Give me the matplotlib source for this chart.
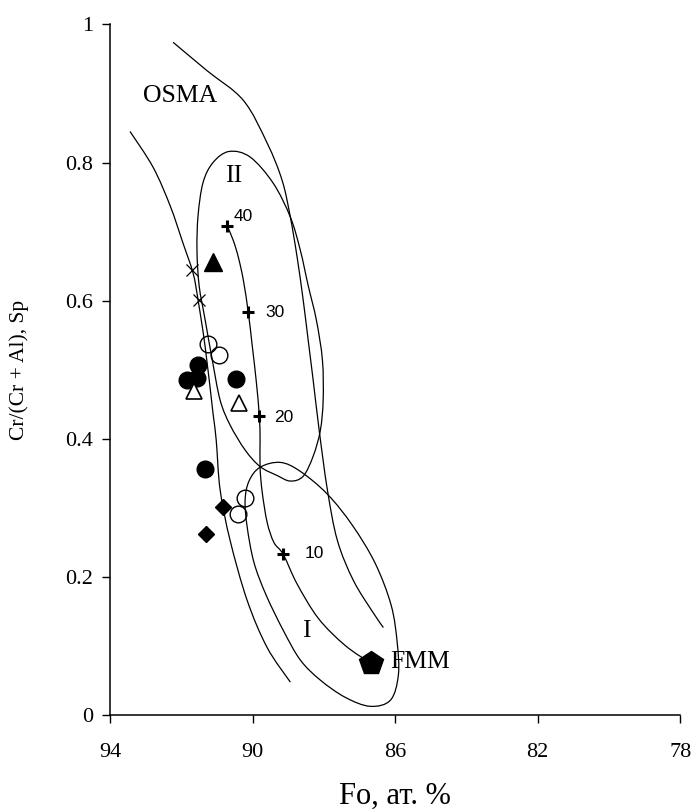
import matplotlib
matplotlib.use('Agg')
import matplotlib.pyplot as plt
from matplotlib.path import Path
from matplotlib.patches import PathPatch

plt.rcParams['font.family'] = ['Liberation Serif', 'DejaVu Serif']

# Fo (at. %) vs Cr/(Cr+Al) in spinel
osma_left_x = [93.44, 92.79, 92.31, 91.95, 91.67, 91.53, 91.33, 91.11, 91.02, 90.91, 90.63, 90.15, 89.59, 88.94]
osma_left_y = [0.845, 0.793, 0.737, 0.683, 0.640, 0.601, 0.533, 0.437, 0.398, 0.326, 0.253, 0.166, 0.098, 0.048]

osma_right_x = [92.23, 91.28, 90.26, 89.59, 89.17, 88.94, 88.75, 88.58, 88.44, 88.30, 88.13, 87.90, 87.62, 87.17, 86.61, 86.33]
osma_right_y = [0.974, 0.933, 0.890, 0.828, 0.774, 0.721, 0.663, 0.601, 0.543, 0.485, 0.412, 0.326, 0.253, 0.195, 0.148, 0.127]

# field II (closed)
field2_x = [90.66, 90.07, 89.42, 88.94, 88.66, 88.44, 88.21, 88.04, 88.02, 88.10, 88.30, 88.58, 88.94,
            89.31, 89.79, 90.21, 90.63, 90.91, 91.13, 91.33, 91.50, 91.56, 91.53, 91.39, 91.11]
field2_y = [0.816, 0.808, 0.770, 0.721, 0.673, 0.622, 0.572, 0.514, 0.456, 0.412, 0.375, 0.346, 0.339,
            0.347, 0.360, 0.384, 0.420, 0.456, 0.514, 0.572, 0.622, 0.673, 0.723, 0.771, 0.800]

# field I (closed)
field1_x = [89.79, 89.22, 88.66, 87.90, 87.20, 86.56, 86.11, 85.94, 85.91, 86.13, 86.70, 87.40, 88.10,
            88.66, 89.14, 89.62, 89.96, 90.15, 90.21, 90.10]
field1_y = [0.359, 0.366, 0.353, 0.320, 0.275, 0.220, 0.159, 0.104, 0.058, 0.022, 0.013, 0.026, 0.051,
            0.080, 0.123, 0.174, 0.221, 0.272, 0.311, 0.339]

# melting trend towards FMM, % of melting
melt_x = [90.71, 90.54, 90.40, 90.26, 90.12, 90.01, 89.90, 89.81, 89.79, 89.79, 89.73, 89.59, 89.40,
          89.14, 88.75, 88.15, 87.40, 86.67]
melt_y = [0.708, 0.687, 0.663, 0.630, 0.583, 0.535, 0.485, 0.433, 0.398, 0.359, 0.323, 0.279, 0.250,
          0.233, 0.190, 0.140, 0.101, 0.075]
melt_pct = ['40', '30', '20', '10']
melt_pct_x = [90.71, 90.12, 89.81, 89.14]
melt_pct_y = [0.708, 0.583, 0.433, 0.233]
fmm_x, fmm_y = 86.67, 0.075

# samples
filled_circle_x = [91.53, 91.84, 91.56, 90.46, 91.33]
filled_circle_y = [0.507, 0.485, 0.488, 0.486, 0.356]
open_circle_x = [91.25, 90.94, 90.21, 90.40]
open_circle_y = [0.538, 0.522, 0.315, 0.291]
open_tri_x = [91.64, 90.38]
open_tri_y = [0.469, 0.452]
filled_tri_x = [91.11]
filled_tri_y = [0.656]
cross_x = [91.70, 91.50]
cross_y = [0.644, 0.601]
diamond_x = [90.83, 91.30]
diamond_y = [0.301, 0.262]


def smooth_path(xs, ys, closed=False):
    # Catmull-Rom through the points, drawn as cubic Bezier segments
    pts = list(zip(xs, ys))
    n = len(pts)
    if closed:
        get = lambda i: pts[i % n]
        segs = n
    else:
        get = lambda i: pts[min(max(i, 0), n - 1)]
        segs = n - 1
    verts = [pts[0]]
    codes = [Path.MOVETO]
    for i in range(segs):
        p0, p1, p2, p3 = get(i - 1), get(i), get(i + 1), get(i + 2)
        c1 = (p1[0] + (p2[0] - p0[0]) / 6, p1[1] + (p2[1] - p0[1]) / 6)
        c2 = (p2[0] - (p3[0] - p1[0]) / 6, p2[1] - (p3[1] - p1[1]) / 6)
        verts += [c1, c2, p2]
        codes += [Path.CURVE4] * 3
    return Path(verts, codes)


fig = plt.figure(figsize=(6.92, 8.11), dpi=100)
ax = fig.add_axes([0.159, 0.118, 0.824, 0.852])

lw = 0.9
for xs, ys, closed in [(osma_left_x, osma_left_y, False),
                       (osma_right_x, osma_right_y, False),
                       (field2_x, field2_y, True),
                       (field1_x, field1_y, True),
                       (melt_x, melt_y, False)]:
    ax.add_patch(PathPatch(smooth_path(xs, ys, closed), fill=False, edgecolor='black', lw=lw))

ax.plot(melt_pct_x, melt_pct_y, ls='none', marker='+', ms=9, mew=2.2, color='black')
ax.plot(fmm_x, fmm_y, ls='none', marker='p', ms=18, color='black', zorder=5)

ax.plot(filled_circle_x, filled_circle_y, ls='none', marker='o', ms=12, color='black', zorder=4)
ax.plot(open_circle_x, open_circle_y, ls='none', marker='o', ms=12, mfc='none', mec='black', mew=1.0, zorder=4)
ax.plot(open_tri_x, open_tri_y, ls='none', marker='^', ms=12, mfc='white', mec='black', mew=1.2, zorder=4)
ax.plot(filled_tri_x, filled_tri_y, ls='none', marker='^', ms=13, color='black', zorder=4)
ax.plot(cross_x, cross_y, ls='none', marker='x', ms=9, mew=0.9, color='black', zorder=4)
ax.plot(diamond_x, diamond_y, ls='none', marker='D', ms=8.5, color='black', zorder=4)

# labels on the plot
ax.text(92.03, 0.896, 'OSMA', fontsize=18.5, ha='center', va='center')
ax.text(90.52, 0.780, 'II', fontsize=18.5, ha='center', va='center')
ax.text(88.49, 0.122, 'I', fontsize=18.5, ha='center', va='center')
ax.text(86.13, 0.077, 'FMM', fontsize=18.5, ha='left', va='center')
pct_lx = [90.52, 89.65, 89.39, 88.55]
pct_ly = [0.722, 0.583, 0.431, 0.234]
for s, lx, ly in zip(melt_pct, pct_lx, pct_ly):
    ax.text(lx, ly, s, fontsize=12.5, family='Liberation Sans', ha='left', va='center')

ax.set_xlim(94, 78)
ax.set_ylim(0, 1)
ax.set_xticks([94, 90, 86, 82, 78])
ax.set_xticklabels(['94', '90', '86', '82', '78'])
ax.set_yticks([0, 0.2, 0.4, 0.6, 0.8, 1])
ax.set_yticklabels(['0', '0.2', '0.4', '0.6', '0.8', '1'])
ax.tick_params(direction='out', length=6, width=1.0, labelsize=16, pad=6)
ax.tick_params(axis='x', pad=14)

for side in ['top', 'right']:
    ax.spines[side].set_visible(False)
for side in ['left', 'bottom']:
    ax.spines[side].set_linewidth(1.1)

ax.set_xlabel('Fo, ат. %', fontsize=22, labelpad=14)
ax.set_ylabel('Cr/(Cr + Al), Sp', fontsize=15.5, labelpad=26)

fig.savefig('out.png', dpi=100)
